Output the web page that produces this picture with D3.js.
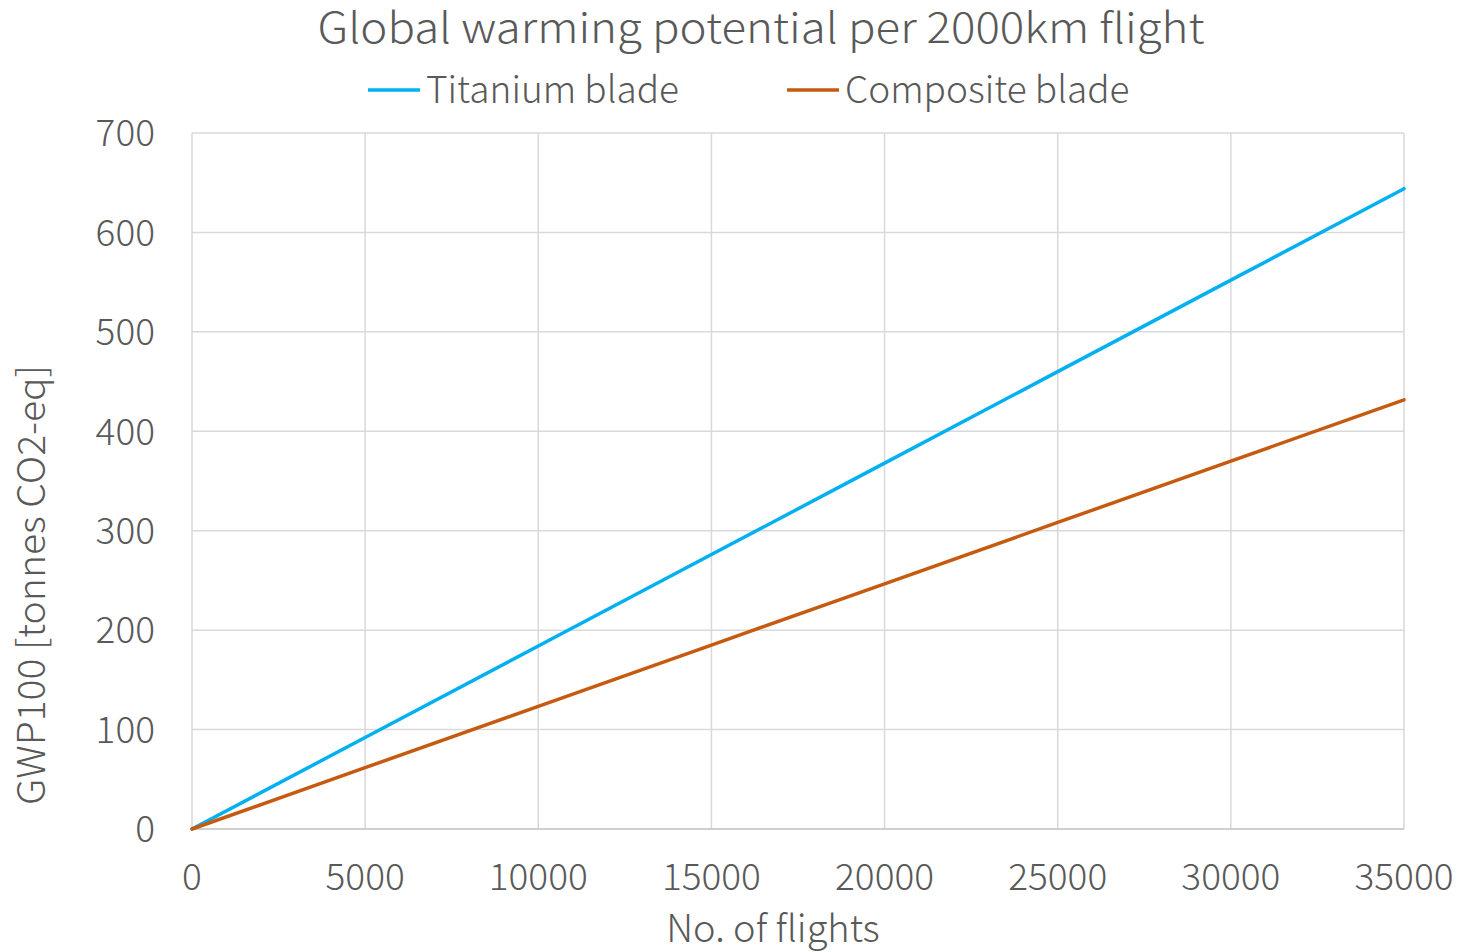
<!DOCTYPE html>
<html>
<head>
<meta charset="utf-8">
<script src="https://cdn.jsdelivr.net/npm/d3@7"></script>
<style>
  html, body { margin: 0; padding: 0; background: #fff; }
  text { font-family: "Noto Sans CJK JP", "Noto Sans", sans-serif; fill: #595959; font-weight: 300; }
</style>
</head>
<body>
<svg id="chart" width="1461" height="952"></svg>
<script>
// Cumulative GWP100 (tonnes CO2-eq) against number of flights
const flights = [0, 5000, 10000, 15000, 20000, 25000, 30000, 35000];
const titanium = [0, 92, 184, 276, 368, 460, 552, 644];
const composite = [0, 61.7, 123.3, 185, 246.6, 308.3, 370, 431.6];
const seriesNames = ["Titanium blade", "Composite blade"];
const seriesColors = ["#00b0f0", "#c55a11"];
const xTicks = [0, 5000, 10000, 15000, 20000, 25000, 30000, 35000];
const yTicks = [0, 100, 200, 300, 400, 500, 600, 700];

const svg = d3.select("#chart");
const plotLeft = 192, plotRight = 1404, plotTop = 133, plotBottom = 829;

const x = d3.scaleLinear().domain([0, 35000]).range([plotLeft, plotRight]);
const y = d3.scaleLinear().domain([0, 700]).range([plotBottom, plotTop]);

// gridlines
svg.append("g").selectAll("line").data(yTicks.filter(d => d > 0)).join("line")
  .attr("x1", plotLeft).attr("x2", plotRight)
  .attr("y1", d => y(d)).attr("y2", d => y(d))
  .attr("stroke", "#d9d9d9").attr("stroke-width", 1.5);
svg.append("g").selectAll("line").data(xTicks).join("line")
  .attr("x1", d => x(d)).attr("x2", d => x(d))
  .attr("y1", plotTop).attr("y2", plotBottom)
  .attr("stroke", "#d9d9d9").attr("stroke-width", 1.5);

// x axis line
svg.append("line").attr("x1", plotLeft).attr("x2", plotRight).attr("y1", y(0)).attr("y2", y(0))
  .attr("stroke", "#bfbfbf").attr("stroke-width", 1.5);

// tick labels
svg.append("g").selectAll("text").data(yTicks).join("text")
  .attr("x", 155).attr("y", d => y(d)).attr("dy", "0.36em")
  .attr("text-anchor", "end").attr("font-size", 37)
  .text(d => d);
svg.append("g").selectAll("text").data(xTicks).join("text")
  .attr("x", d => x(d)).attr("y", 890)
  .attr("text-anchor", "middle").attr("font-size", 37)
  .text(d => d);

// series lines
const line = d3.line().x((d, i) => x(flights[i])).y(d => y(d));
[titanium, composite].forEach((vals, k) => {
  svg.append("path").datum(vals)
    .attr("d", line)
    .attr("fill", "none")
    .attr("stroke", seriesColors[k])
    .attr("stroke-width", 3.5)
    .attr("stroke-linecap", "round");
});

// title
svg.append("text").attr("x", 761).attr("y", 43).attr("text-anchor", "middle")
  .attr("font-size", 42)
  .attr("textLength", 887).attr("lengthAdjust", "spacingAndGlyphs")
  .text("Global warming potential per 2000km flight");

// legend
const legendX = [368, 787];
seriesNames.forEach((name, k) => {
  svg.append("line").attr("x1", legendX[k]).attr("x2", legendX[k] + 52)
    .attr("y1", 90).attr("y2", 90)
    .attr("stroke", seriesColors[k]).attr("stroke-width", 3.5);
  svg.append("text").attr("x", legendX[k] + 58).attr("y", 90).attr("dy", "0.36em")
    .attr("font-size", 37).text(name);
});

// axis titles
svg.append("text").attr("x", 773).attr("y", 942).attr("text-anchor", "middle")
  .attr("font-size", 38).text("No. of flights");
svg.append("text").attr("transform", "translate(45,585) rotate(-90)")
  .attr("text-anchor", "middle").attr("font-size", 38)
  .attr("textLength", 440).attr("lengthAdjust", "spacingAndGlyphs")
  .text("GWP100 [tonnes CO2-eq]");
</script>
</body>
</html>
